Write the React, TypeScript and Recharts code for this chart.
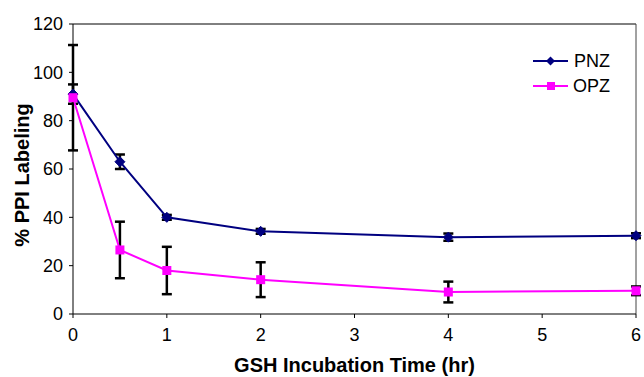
import React from 'react';
import { LineChart, Line, XAxis, YAxis, ErrorBar, ReferenceLine } from 'recharts';

const times = [0, 0.5, 1, 2, 4, 6];
const pnz = [91, 63, 40, 34.2, 31.8, 32.4];
const pnzErr = [4, 3, 1, 1, 1.5, 1];
const opz = [89.5, 26.5, 18, 14.2, 9.1, 9.6];
const opzErr = [21.8, 11.7, 9.8, 7.2, 4.3, 1.8];
const xTicks = [0, 1, 2, 3, 4, 5, 6];
const yTicks = [0, 20, 40, 60, 80, 100, 120];

const data = times.map((t, i) => ({
  t,
  pnz: pnz[i],
  pnzErr: pnzErr[i],
  opz: opz[i],
  opzErr: opzErr[i],
}));

const font = 'Liberation Sans, Arial, sans-serif';

const Diamond = (props: any) => {
  const { cx, cy } = props;
  if (cx == null || cy == null) return null;
  const r = 5;
  return <path d={`M${cx},${cy - r}L${cx + r},${cy}L${cx},${cy + r}L${cx - r},${cy}Z`} fill="#000080" stroke="#000080" />;
};

const Square = (props: any) => {
  const { cx, cy } = props;
  if (cx == null || cy == null) return null;
  const r = 4.5;
  return <rect x={cx - r} y={cy - r} width={2 * r} height={2 * r} fill="#FF00FF" />;
};

export default function App() {
  return (
    <div style={{ position: 'absolute', left: 0, top: 0, width: 644, height: 377, background: '#fff' }}>
      <LineChart
        width={644}
        height={377}
        data={data}
        margin={{ top: 24, right: 8, left: 0, bottom: 0 }}
        style={{ fontFamily: font }}
      >
        <XAxis
          dataKey="t"
          type="number"
          domain={[0, 6]}
          ticks={xTicks}
          tickSize={4}
          tickMargin={10}
          stroke="#000"
          height={63}
          tick={{ fill: '#000', fontSize: 18, fontFamily: font }}
          label={{ value: 'GSH Incubation Time (hr)', position: 'insideBottom', offset: 5, style: { fontWeight: 'bold', fontSize: 20, fill: '#000', fontFamily: font } }}
        />
        <YAxis
          type="number"
          domain={[0, 120]}
          ticks={yTicks}
          tickSize={4}
          tickMargin={6}
          stroke="#000"
          width={73}
          tick={{ fill: '#000', fontSize: 18, fontFamily: font }}
        />
        <ReferenceLine y={120} stroke="#000" />
        <ReferenceLine x={6} stroke="#444" />
        <Line
          dataKey="pnz"
          stroke="#000080"
          strokeWidth={2}
          dot={<Diamond />}
          isAnimationActive={false}
        >
          <ErrorBar dataKey="pnzErr" width={5} strokeWidth={2.5} stroke="#000" direction="y" />
        </Line>
        <Line
          dataKey="opz"
          stroke="#FF00FF"
          strokeWidth={2}
          dot={<Square />}
          isAnimationActive={false}
        >
          <ErrorBar dataKey="opzErr" width={5} strokeWidth={2.5} stroke="#000" direction="y" />
        </Line>
      </LineChart>
      <svg style={{ position: 'absolute', left: 0, top: 0 }} width={644} height={377} pointerEvents="none">
        <text
          transform="translate(22,175) rotate(-90)"
          textAnchor="middle"
          dominantBaseline="central"
          fontSize={20}
          fontWeight="bold"
          fontFamily={font}
          fill="#000"
        >
          % PPI Labeling
        </text>
        <g>
          <line x1={533} y1={61} x2={568} y2={61} stroke="#000080" strokeWidth={2} />
          <path d="M550.5,56.5L555,61L550.5,65.5L546,61Z" fill="#000080" />
          <text x={574} y={61} dominantBaseline="central" fontSize={18} fontFamily={font} fill="#000">PNZ</text>
          <line x1={533} y1={86} x2={568} y2={86} stroke="#FF00FF" strokeWidth={2} />
          <rect x={547} y={82} width={8} height={8} fill="#FF00FF" />
          <text x={573} y={86} dominantBaseline="central" fontSize={18} fontFamily={font} fill="#000">OPZ</text>
        </g>
      </svg>
    </div>
  );
}
